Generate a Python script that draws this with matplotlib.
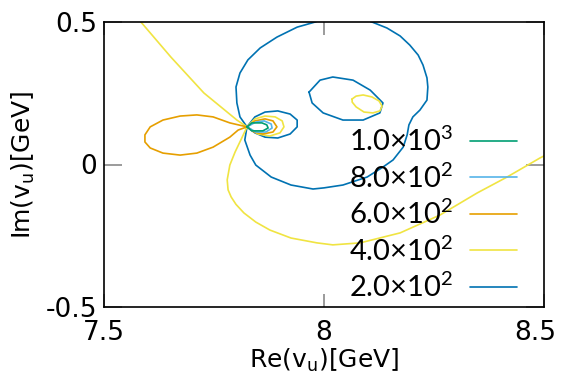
import numpy as np
import matplotlib
matplotlib.use('Agg')
import matplotlib.pyplot as plt
import matplotlib.transforms as mtransforms

plt.rcParams['mathtext.fontset'] = 'custom'
plt.rcParams['mathtext.rm'] = 'Lato'
plt.rcParams['mathtext.it'] = 'Lato:italic'
plt.rcParams['mathtext.bf'] = 'Lato:bold'

# contour levels (legend order) and colours
levels = ['1.0×10$^{3}$', '8.0×10$^{2}$', '6.0×10$^{2}$', '4.0×10$^{2}$', '2.0×10$^{2}$']
colors = ['#009e73', '#56b4e9', '#e69f00', '#f0e442', '#0072b2']

# level 1.0e3
g_re = [7.825, 7.836, 7.859, 7.870, 7.873, 7.861, 7.836, 7.825]
g_im = [0.132, 0.146, 0.146, 0.139, 0.128, 0.118, 0.118, 0.132]

# level 8.0e2
lb_re = [7.825, 7.845, 7.864, 7.880, 7.882, 7.868, 7.845, 7.825]
lb_im = [0.132, 0.149, 0.153, 0.142, 0.128, 0.114, 0.114, 0.132]

# level 6.0e2 : small loop right of the node and big lobe on the left
or_r_re = [7.825, 7.843, 7.866, 7.884, 7.893, 7.884, 7.861, 7.841, 7.825]
or_r_im = [0.132, 0.153, 0.160, 0.153, 0.132, 0.114, 0.107, 0.114, 0.132]
or_l_re = [7.825, 7.786, 7.748, 7.711, 7.673, 7.634, 7.605, 7.593, 7.593, 7.605,
           7.634, 7.673, 7.711, 7.748, 7.786, 7.805, 7.825]
or_l_im = [0.132, 0.146, 0.167, 0.174, 0.170, 0.156, 0.132, 0.104, 0.079, 0.058,
           0.040, 0.033, 0.040, 0.061, 0.096, 0.121, 0.132]

# level 4.0e2 : long open branch and small ellipse
y_re = [7.580, 7.652, 7.727, 7.802, 7.825, 7.843, 7.866, 7.889, 7.905, 7.909,
        7.900, 7.877, 7.850, 7.825, 7.811, 7.798, 7.786, 7.780, 7.782, 7.789,
        7.800, 7.818, 7.845, 7.877, 7.925, 7.984, 8.020, 8.082, 8.173, 8.264,
        8.348, 8.416, 8.491, 8.509]
y_im = [0.507, 0.377, 0.251, 0.156, 0.132, 0.160, 0.170, 0.167, 0.153, 0.132,
        0.111, 0.100, 0.107, 0.132, 0.086, 0.044, -0.002, -0.054, -0.089, -0.114,
        -0.140, -0.170, -0.202, -0.230, -0.258, -0.275, -0.282, -0.275, -0.240, -0.177,
        -0.100, -0.044, 0.023, 0.037]
ye_re = [8.064, 8.073, 8.089, 8.109, 8.125, 8.132, 8.127, 8.111, 8.091, 8.073, 8.064, 8.064]
ye_im = [0.230, 0.240, 0.244, 0.237, 0.223, 0.205, 0.188, 0.181, 0.184, 0.202, 0.219, 0.230]

# level 2.0e2 : big loop, small loop right of node, inner ellipse
b_re = [7.825, 7.809, 7.802, 7.800, 7.809, 7.827, 7.855, 7.893, 7.939, 7.980,
        8.043, 8.109, 8.143, 8.173, 8.195, 8.214, 8.225, 8.234, 8.236, 8.234,
        8.218, 8.202, 8.193, 8.189, 8.180, 8.157, 8.134, 8.098, 8.043, 8.000,
        7.975, 7.925, 7.880, 7.845, 7.832, 7.820, 7.825]
b_im = [0.132, 0.167, 0.216, 0.272, 0.321, 0.367, 0.409, 0.447, 0.482, 0.500,
        0.542, 0.500, 0.479, 0.451, 0.419, 0.384, 0.349, 0.304, 0.272, 0.226,
        0.191, 0.167, 0.139, 0.104, 0.061, 0.016, -0.009, -0.044, -0.072, -0.082,
        -0.086, -0.072, -0.044, -0.002, 0.033, 0.086, 0.132]
bs_re = [7.825, 7.843, 7.866, 7.895, 7.923, 7.939, 7.939, 7.923, 7.895, 7.866, 7.843, 7.825]
bs_im = [0.132, 0.167, 0.184, 0.188, 0.177, 0.156, 0.132, 0.107, 0.093, 0.096, 0.111, 0.132]
be_re = [7.966, 7.991, 8.020, 8.066, 8.105, 8.134, 8.127, 8.089, 8.043, 7.998, 7.973, 7.966]
be_im = [0.254, 0.296, 0.307, 0.296, 0.261, 0.216, 0.181, 0.156, 0.156, 0.181, 0.216, 0.254]

xticks = [7.5, 8, 8.5]
xticklabels = ['7.5', '8', '8.5']
yticks = [-0.5, 0, 0.5]
yticklabels = ['-0.5', '0', '0.5']


def join(*parts):
    out = []
    for i, p in enumerate(parts):
        if i:
            out.append(np.nan)
        out.extend(p)
    return np.array(out, dtype=float)


curves = [
    (join(g_re), join(g_im)),
    (join(lb_re), join(lb_im)),
    (join(or_r_re, or_l_re), join(or_r_im, or_l_im)),
    (join(y_re, ye_re), join(y_im, ye_im)),
    (join(b_re, bs_re, be_re), join(b_im, bs_im, be_im)),
]

fig = plt.figure(figsize=(5.63, 3.90), dpi=100)
ax = fig.add_axes([104 / 563, 1 - 307 / 390, 440 / 563, 285 / 390])

# draw from lowest level up, keep legend order as in reference
for idx in [4, 3, 2, 1, 0]:
    xs, ys = curves[idx]
    ax.plot(xs, ys, color=colors[idx], lw=1.2, label=levels[idx],
            solid_joinstyle='round', solid_capstyle='round')

ax.set_xlim(7.5, 8.5)
ax.set_ylim(-0.5, 0.5)
ax.set_xticks(xticks)
ax.set_xticklabels(xticklabels)
ax.set_yticks(yticks)
ax.set_yticklabels(yticklabels)
for lab in ax.get_xticklabels() + ax.get_yticklabels():
    lab.set_fontfamily('DejaVu Sans')
    lab.set_fontsize(19)
ax.tick_params(axis='x', direction='in', length=9.5, width=1.1, color='#808080',
               top=True, bottom=True, pad=9)
ax.tick_params(axis='y', direction='in', length=13, width=1.1, color='#808080',
               left=True, right=True, pad=5)
for s in ax.spines.values():
    s.set_linewidth(1.2)
    s.set_color('black')

# keep the last x tick label inside the figure (as in the reference)
shift = mtransforms.ScaledTranslation(-9 / 100, 0, fig.dpi_scale_trans)
last = ax.get_xticklabels()[-1]
last.set_transform(last.get_transform() + shift)

ax.set_xlabel(r'Re(v$_\mathrm{u}$)[GeV]', fontsize=18, family='DejaVu Sans',
              math_fontfamily='dejavusans', labelpad=1)
ax.set_ylabel(r'Im(v$_\mathrm{u}$)[GeV]', fontsize=18, family='DejaVu Sans',
              math_fontfamily='dejavusans', labelpad=6)

handles, labels = ax.get_legend_handles_labels()
order = [labels.index(l) for l in levels]
leg = ax.legend([handles[i] for i in order], [labels[i] for i in order],
                loc='lower right', bbox_to_anchor=((517 - 104) / 440, (307 - 302) / 285),
                frameon=False, markerfirst=False, prop={'family': 'Lato', 'size': 21},
                handlelength=1.6, handletextpad=0.6, labelspacing=0.25,
                borderpad=0, borderaxespad=0)
for t in leg.get_texts():
    t.set_ha('right')

fig.savefig('out.png', dpi=100)
